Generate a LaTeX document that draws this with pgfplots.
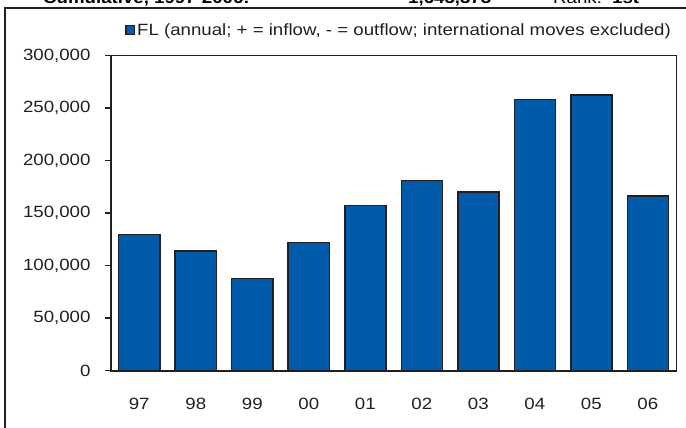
\documentclass[border=0pt]{standalone}
\usepackage{fontspec}
\setmainfont[FakeStretch=1.145]{Liberation Sans}
\usepackage{pgfplots}
\pgfplotsset{compat=1.18}
\definecolor{barblue}{RGB}{0,91,170}
\definecolor{edge}{RGB}{35,31,32}
\newcommand{\fs}{\fontsize{16.3bp}{18bp}\selectfont}

\begin{document}
\begin{tikzpicture}[x=1bp,y=1bp]
\useasboundingbox (0,0) rectangle (686,427);
% outer frame, only partly in view
\draw[edge, line width=1.3bp] (5,-10) -- (5,419) -- (700,419);
% header line, cut off at the top of the picture as in the source
\node[anchor=base west, inner sep=0, font=\fs\bfseries] at (43,423) {Cumulative, 1997-2006:};
\node[anchor=base west, inner sep=0, font=\fs\bfseries] at (408,423) {1,645,373};
\node[anchor=base west, inner sep=0, font=\fs] at (553,423) {Rank:};
\node[anchor=base west, inner sep=0, font=\fs\bfseries] at (612,423) {1st};

\begin{axis}[
    at={(111bp,56.5bp)}, anchor=south west,
    scale only axis, width=565bp, height=315bp,
    xmin=-0.5, xmax=9.5,
    ymin=0, ymax=300000,
    clip=false,
    axis line style={draw=none},
    xtick pos=bottom, ytick pos=left,
    xtick={0,...,9},
    xticklabels={97,98,99,00,01,02,03,04,05,06},
    major x tick style={draw=none},
    extra x ticks={-0.5,0.5,...,9.5},
    extra x tick labels={},
    extra x tick style={tick align=inside, major tick length=6bp,
        major tick style={edge, line width=1.3bp}},
    xticklabel style={yshift=-18bp},
    ytick={0,50000,...,300000},
    tick align=outside,
    major tick length=6bp,
    major y tick style={edge, line width=1.3bp},
    scaled y ticks=false,
    /pgf/number format/fixed,
    /pgf/number format/1000 sep={,},
    /pgf/number format/assume math mode=true,
    yticklabel style={xshift=-11bp},
    tick label style={font=\fs, text=edge},
    legend style={draw=none, fill=none, at={(0.0248,1.081)}, anchor=west,
        inner sep=0pt, font=\fs, text=edge,
        nodes={inner sep=2bp}},
    legend image code/.code={\draw[#1, line width=1.3bp] (0bp,-4.3bp) rectangle (8.6bp,4.3bp);},
]
\addplot[ybar, bar width=0.726, fill=barblue, draw=edge, line width=1.5bp]
    coordinates {(0,129300) (1,113800) (2,87400) (3,122100) (4,157000)
                 (5,181100) (6,170000) (7,258300) (8,262400) (9,166200)};
\addlegendentry{FL (annual; + = inflow, - = outflow; international moves excluded)}
\end{axis}
% plot-area frame: top and right as thin filled strips, left and bottom heavier
\fill[edge] (105,370.7) rectangle (677.3,372.3);
\fill[edge] (675.7,56.5) rectangle (677.3,372.3);
\draw[edge, line width=2bp] (111,371.5) -- (111,56.5) -- (676.5,56.5);
\end{tikzpicture}
\end{document}
